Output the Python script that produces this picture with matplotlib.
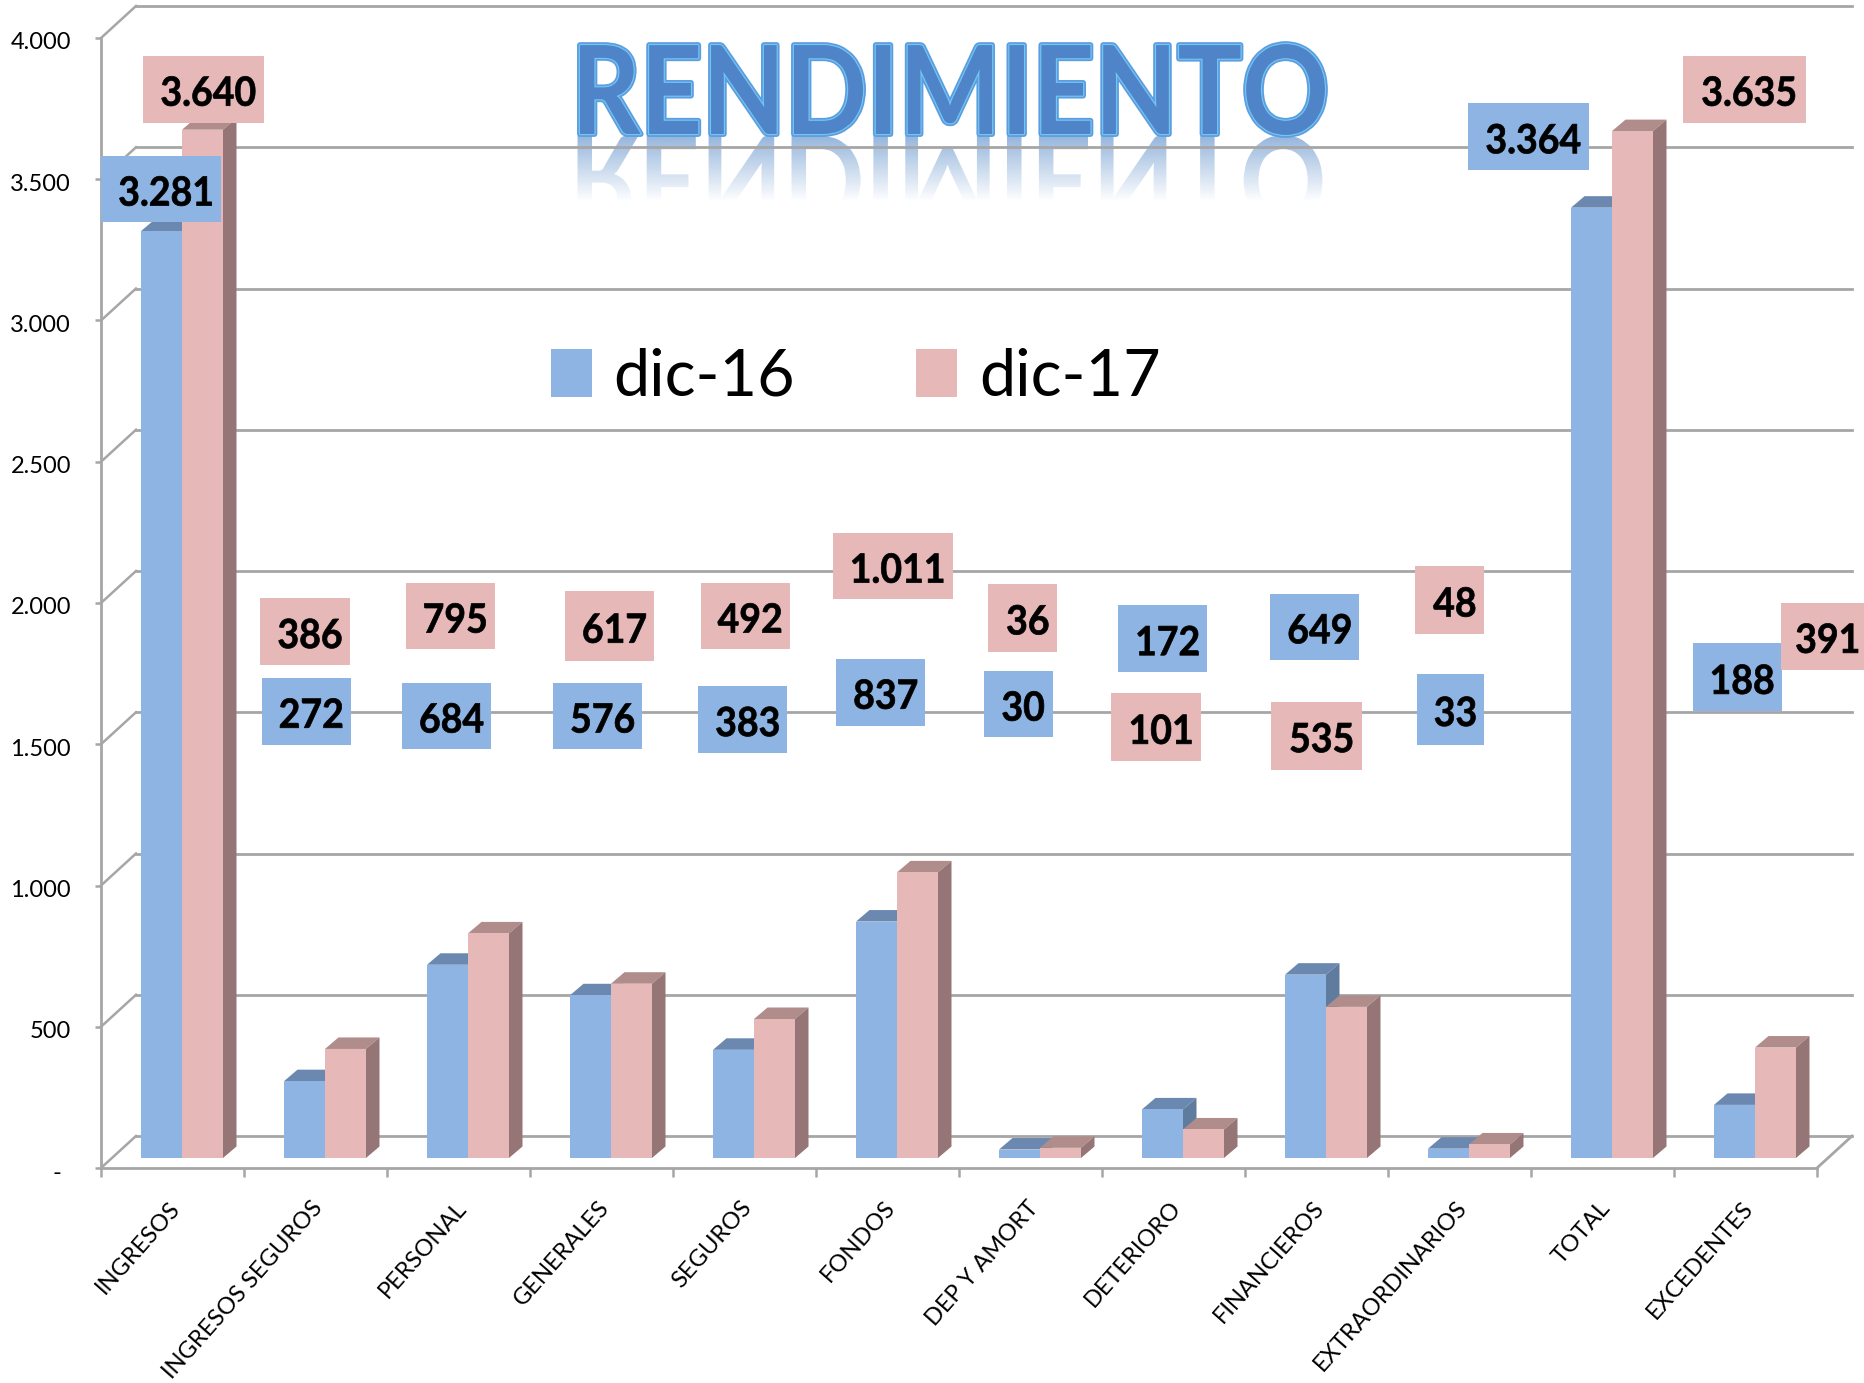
import matplotlib
matplotlib.use("Agg")
import numpy as np
import matplotlib.pyplot as plt
from matplotlib.patches import Rectangle, PathPatch, Patch
from matplotlib.textpath import TextPath
from matplotlib.font_manager import FontProperties
from matplotlib.transforms import Affine2D, ScaledTranslation
import matplotlib.patheffects as pe

categories = ["INGRESOS", "INGRESOS SEGUROS", "PERSONAL", "GENERALES", "SEGUROS", "FONDOS",
              "DEP Y AMORT", "DETERIORO", "FINANCIEROS", "EXTRAORDINARIOS", "TOTAL", "EXCEDENTES"]
dic16 = [3281, 272, 684, 576, 383, 837, 30, 172, 649, 33, 3364, 188]
dic17 = [3640, 386, 795, 617, 492, 1011, 36, 101, 535, 48, 3635, 391]
series_names = ["dic-16", "dic-17"]
y_ticks = [0, 500, 1000, 1500, 2000, 2500, 3000, 3500, 4000]
y_tick_labels = ["-", "500", "1.000", "1.500", "2.000", "2.500", "3.000", "3.500", "4.000"]
title = "RENDIMIENTO"

# label boxes (x0, x1, y0, y1) in the 1568-wide preview's pixels
boxes16 = [(85,186,131,187),(220,295,570,626),(338,413,574,630),(465,540,574,630),(587,662,577,633),
           (703,778,554,610),(827,885,564,620),(940,1015,509,565),(1068,1143,499,555),(1191,1248,567,626),
           (1234,1336,87,143),(1423,1498,541,598)]
boxes17 = [(120,222,47,103),(219,294,503,559),(341,416,490,546),(475,550,497,556),(589,664,490,546),
           (700,801,448,504),(831,889,491,548),(934,1010,583,640),(1069,1145,590,647),(1190,1248,476,533),
           (1415,1518,47,103),(1497,1568,507,563)]

W, H = 1865, 1383
S = W / 1568
plt.rcParams["font.family"] = ["Lato", "DejaVu Sans"]

BLUE, BLUE_TOP, BLUE_SIDE = "#8db4e2", "#6b89b0", "#5f7c9f"
PINK, PINK_TOP, PINK_SIDE = "#e6b8b7", "#b08c8a", "#957575"
GRID = "#a6a6a6"


class Squeezed(pe.AbstractPathEffect):
    """Draws text narrower about a display x, with an optional outline."""
    def __init__(self, sx, cx, lw=None, color=None):
        super().__init__()
        self.sx, self.cx, self.lw, self.color = sx, cx, lw, color

    def draw_path(self, renderer, gc, tpath, affine, rgbFace=None):
        a = affine + Affine2D().translate(-self.cx, 0).scale(self.sx, 1).translate(self.cx, 0)
        g = renderer.new_gc()
        g.copy_properties(gc)
        face = rgbFace
        if self.lw is not None:
            g.set_linewidth(self.lw)
            g.set_foreground(self.color)
            g.set_joinstyle("round")
            face = matplotlib.colors.to_rgba(self.color)
        renderer.draw_path(g, tpath, a, face)
        g.restore()


fig = plt.figure(figsize=(W / 100, H / 100), dpi=100, facecolor="white")
L, R, B, T = 101, 1817, 1168, 38
bg = fig.add_axes([0, 0, 1, 1], zorder=0)
bg.set_xlim(0, W); bg.set_ylim(H, 0); bg.axis("off")
ax = fig.add_axes([L / W, (H - B) / H, (R - L) / W, (B - T) / H], zorder=1)
ax.patch.set_alpha(0)
ov = fig.add_axes([0, 0, 1, 1], zorder=2)
ov.set_xlim(0, W); ov.set_ylim(H, 0); ov.axis("off")

ax.set_xlim(-0.5, 11.5)
ax.set_ylim(0, 4000)
ppx = 12 / (R - L)            # category units per px
ppy = 4000 / (B - T)          # value units per px
dx, dy = 35 * ppx, 32 * ppy   # wall depth
for v in y_ticks:
    ax.plot([-0.5 + dx, 11.5 + dx], [v + dy, v + dy], color=GRID, lw=2.0, clip_on=False, zorder=1)
    ax.plot([-0.5, -0.5 + dx], [v, v + dy], color=GRID, lw=1.8, clip_on=False, zorder=1)
ax.plot([11.5, 11.5 + dx], [0, dy], color=GRID, lw=2.0, clip_on=False, zorder=1)

for s in ("top", "right"):
    ax.spines[s].set_visible(False)
for s in ("left", "bottom"):
    ax.spines[s].set_color(GRID)
    ax.spines[s].set_linewidth(2.0)
    ax.spines[s].set_zorder(1.5)

# bars
bw = 41 * ppx
off = 0.0664
base = 10 * ppy
bx, by = 13.5 * ppx, 11.5 * ppy
def bar3d(xc, val, front, top, side, z):
    ax.fill([xc - bw/2, xc + bw/2, xc + bw/2 + bx, xc - bw/2 + bx],
            [base + val, base + val, base + val + by, base + val + by], color=top, lw=0, zorder=z, clip_on=False)
    ax.fill([xc + bw/2, xc + bw/2 + bx, xc + bw/2 + bx, xc + bw/2],
            [base, base + by, base + val + by, base + val], color=side, lw=0, zorder=z, clip_on=False)
    ax.bar(xc, val, width=bw, bottom=base, color=front, lw=0, zorder=z + 0.1, clip_on=False)

for i in range(len(categories)):
    c = i + off
    bar3d(c - bw / 2, dic16[i], BLUE, BLUE_TOP, BLUE_SIDE, 3 + i * 0.01)
    bar3d(c + bw / 2, dic17[i], PINK, PINK_TOP, PINK_SIDE, 3.5 + i * 0.01)

# ticks
ax.set_yticks(y_ticks, y_tick_labels)
ax.tick_params(axis="y", length=4.5, width=1.8, color=GRID, pad=17, labelsize=17, labelcolor="black")
for k, t in enumerate(ax.get_yticklabels()):
    shift = -10 / 100 if k == 0 else 0
    t.set_transform(t.get_transform() + ScaledTranslation(shift, -3 / 100, fig.dpi_scale_trans))
ax.set_xticks(np.arange(-0.5, 12.0, 1.0), [""] * 13)
ax.tick_params(axis="x", which="major", length=6.5, width=1.8, color=GRID)
ax.set_xticks(np.arange(12), categories, minor=True)
ax.tick_params(axis="x", which="minor", length=0, pad=21, labelsize=17)
for t in ax.get_xticklabels(minor=True):
    t.set_rotation(48.5); t.set_ha("right"); t.set_va("top"); t.set_rotation_mode("anchor")
    t.set_transform(t.get_transform() + ScaledTranslation(-4 / 100, 0, fig.dpi_scale_trans))

# legend
handles = [Patch(color=BLUE, lw=0), Patch(color=PINK, lw=0)]
ov.legend(handles, series_names, loc="center", bbox_to_anchor=(719.5 * S / W, 1 - 317 * S / H),
          bbox_transform=fig.transFigure, frameon=False, ncols=2, prop={"size": 46.5},
          handlelength=0.635, handleheight=0.76, handletextpad=0.33, columnspacing=1.88,
          labelcolor="black", borderpad=0, borderaxespad=0)

# value labels
def label(box, v, col):
    x0, x1, y0, y1 = [b * S for b in box]
    ov.add_patch(Rectangle((x0, y0), x1 - x0, y1 - y0, color=col, lw=0, clip_on=False))
    cx = (x0 + x1) / 2 + 5
    ov.text(cx, (y0 + y1) / 2 + 5, f"{v:,}".replace(",", "."), ha="center", va="center",
            fontsize=29, fontweight="bold", color="black", clip_on=True,
            path_effects=[Squeezed(0.93, cx, lw=0.5, color="black")])
for b, v in zip(boxes16, dic16):
    label(b, v, BLUE)
for b, v in zip(boxes17, dic17):
    label(b, v, PINK)

# title + reflection
TX, TY, TS, SX = 950, 134, 123, 0.875
ov.text(TX, TY, title, ha="center", va="baseline", fontsize=TS * 0.72, fontweight="bold", color="#4f85c8",
        path_effects=[Squeezed(SX, TX, lw=4.2, color="#5c9ce0"),
                      Squeezed(SX, TX, lw=1.7, color="#72c6f2"),
                      Squeezed(SX, TX)])
tp = TextPath((0, 0), title, size=TS, prop=FontProperties(family="Lato", weight="bold"))
ext = tp.get_extents()
tr = Affine2D().translate(-(ext.x0 + ext.x1) / 2, 0).scale(SX, 1).translate(TX, TY + 2) + bg.transData
patch = PathPatch(tp, transform=tr, fc="none", ec="none")
bg.add_patch(patch)
grad = np.zeros((70, 2, 4))
grad[..., :3] = matplotlib.colors.to_rgb("#6f9bd0")
grad[..., 3] = np.linspace(0.75, 0.0, 70)[:, None]
im = bg.imshow(grad, extent=(450, 1450, 202, 134), aspect="auto", zorder=2)
im.set_clip_path(patch)
bg.set_xlim(0, W); bg.set_ylim(H, 0)

fig.savefig("out.png", dpi=100)
